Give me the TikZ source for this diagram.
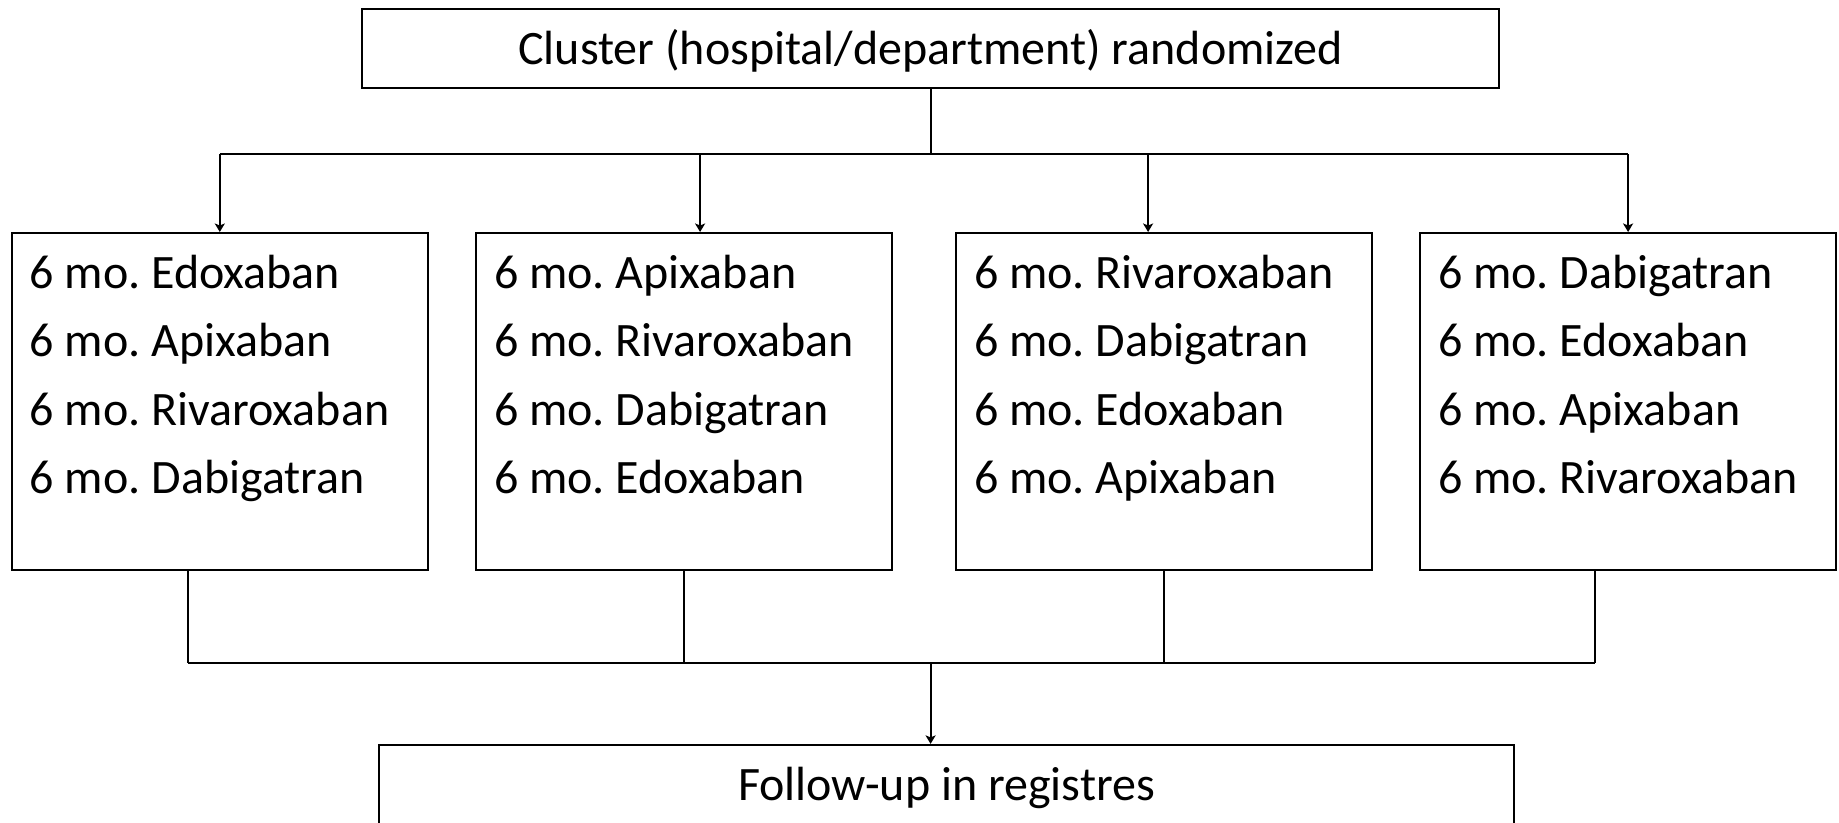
\documentclass[tikz,border=0pt]{standalone}
\usepackage{fontspec}
\setmainfont{Carlito}
\usetikzlibrary{arrows.meta}
\frenchspacing
\newcommand\diagfont{\fontsize{48pt}{68.6pt}\selectfont\frenchspacing}
\newcommand\armlist[4]{\parbox[t][337pt][t]{416pt}{\raggedright\leftskip=18pt\rule{0pt}{55pt}#1\\#2\\#3\\#4}}
\begin{document}
\begin{tikzpicture}[x=1pt,y=-1pt,line width=2.2pt,
  widebox/.style={draw, rectangle, inner sep=0pt, minimum height=79pt,
    text height=31pt, text depth=0pt, font=\diagfont},
  armbox/.style={draw, rectangle, inner sep=0pt, anchor=north west, font=\diagfont},
  conn/.style={line width=2.2pt},
  arr/.style={conn, -{Stealth[width=10pt,length=8.5pt,inset=2pt]}}]
\useasboundingbox (0,0) rectangle (1839,822);
\clip (0,0) rectangle (1839,822);

\node[widebox, minimum width=1137pt] (top) at (930.6,48.5) {Cluster (hospital/department) randomized};

\node[armbox] (a1) at (10.7,232) {\armlist{6 mo. Edoxaban}{6 mo. Apixaban}{6 mo. Rivaroxaban}{6 mo. Dabigatran}};
\node[armbox] (a2) at (475,232) {\armlist{6 mo. Apixaban}{6 mo. Rivaroxaban}{6 mo. Dabigatran}{6 mo. Edoxaban}};
\node[armbox] (a3) at (955,232) {\armlist{6 mo. Rivaroxaban}{6 mo. Dabigatran}{6 mo. Edoxaban}{6 mo. Apixaban}};
\node[armbox] (a4) at (1419,232) {\armlist{6 mo. Dabigatran}{6 mo. Edoxaban}{6 mo. Apixaban}{6 mo. Rivaroxaban}};

\node[widebox, minimum width=1135pt] (fu) at (946.5,784.5) {Follow-up in registres};

\coordinate (hbar) at (0,154);
\coordinate (lbar) at (0,663);
\coordinate (t1) at (a1.north);
\coordinate (t2) at ([xshift=16pt]a2.north);
\coordinate (t3) at ([xshift=-16pt]a3.north);
\coordinate (t4) at (a4.north);
\coordinate (b1) at ([xshift=-32pt]a1.south);
\coordinate (b2) at (a2.south);
\coordinate (b3) at (a3.south);
\coordinate (b4) at ([xshift=-33pt]a4.south);

% top distribution
\draw[conn] (top.south) -- (top.south |- hbar);
\draw[conn] (t1 |- hbar) -- (t4 |- hbar);
\foreach \t in {t1,t2,t3,t4} \draw[arr] (\t |- hbar) -- (\t);

% bottom collection
\foreach \b in {b1,b2,b3,b4} \draw[conn] (\b) -- (\b |- lbar);
\draw[conn] (b1 |- lbar) -- (b4 |- lbar);
\draw[arr] (top.south |- lbar) -- (top.south |- fu.north);
\end{tikzpicture}
\end{document}
